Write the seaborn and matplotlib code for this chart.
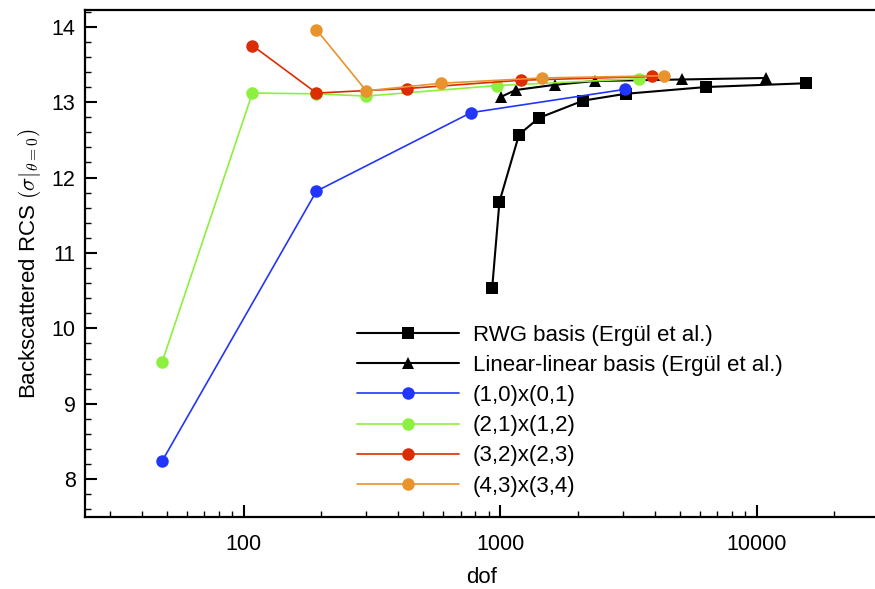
import matplotlib
matplotlib.use("Agg")
import matplotlib.pyplot as plt
from matplotlib.ticker import LogLocator, FixedLocator, MultipleLocator, NullFormatter, FuncFormatter
import numpy as np
import pandas as pd
import seaborn as sns

# Convergence of the backscattered RCS with the number of degrees of freedom
rwg_dof = [929, 992, 1183, 1413, 2104, 3076, 6340, 15560]
rwg_rcs = [10.53, 11.68, 12.57, 12.79, 13.02, 13.11, 13.20, 13.25]

lin_dof = [1007, 1146, 1637, 2334, 5118, 10885]
lin_rcs = [13.07, 13.16, 13.23, 13.28, 13.30, 13.32]

p1_dof = [48, 192, 768, 3072]
p1_rcs = [8.24, 11.82, 12.86, 13.17]

p2_dof = [48, 108, 192, 300, 972, 3468]
p2_rcs = [9.55, 13.12, 13.11, 13.08, 13.22, 13.31]

p3_dof = [108, 192, 432, 1200, 3888]
p3_rcs = [13.75, 13.12, 13.18, 13.29, 13.34]

p4_dof = [192, 300, 588, 1452, 4332]
p4_rcs = [13.96, 13.15, 13.25, 13.32, 13.35]

labels = ["RWG basis (Ergül et al.)", "Linear-linear basis (Ergül et al.)",
          "(1,0)x(0,1)", "(2,1)x(1,2)", "(3,2)x(2,3)", "(4,3)x(3,4)"]
colors = ["#000000", "#000000", "#2236fb", "#8cf03e", "#dc2c02", "#e8932c"]
markers = ["s", "^", "o", "o", "o", "o"]
x_ticks = [100, 1000, 10000]
y_ticks = [8, 9, 10, 11, 12, 13, 14]

series = [(rwg_dof, rwg_rcs), (lin_dof, lin_rcs), (p1_dof, p1_rcs),
          (p2_dof, p2_rcs), (p3_dof, p3_rcs), (p4_dof, p4_rcs)]

sns.set_theme(style="ticks")
plt.rcParams["font.family"] = ["Liberation Sans", "DejaVu Sans"]
plt.rcParams["mathtext.fontset"] = "cm"
plt.rcParams["text.color"] = "black"
plt.rcParams["axes.labelcolor"] = "black"

fig = plt.figure(figsize=(8.75, 5.89), dpi=100)
W, H = 875, 589
ax = fig.add_axes([85.3 / W, (H - 517) / H, (877 - 85.3) / W, (517 - 9.7) / H])

for (xs, ys), lab, col, mk in zip(series, labels, colors, markers):
    df = pd.DataFrame({"dof": xs, "rcs": ys})
    lw = 1.5 if col == "#000000" else 1.2
    sns.lineplot(data=df, x="dof", y="rcs", ax=ax, color=col, marker=mk,
                 markersize=9, markeredgewidth=0, linewidth=lw,
                 label=lab, estimator=None, sort=False)

ax.set_xscale("log")
ax.set_xlim(24.1, 29400)
ax.set_ylim(7.5, 14.225)

ax.xaxis.set_major_locator(FixedLocator(x_ticks))
ax.xaxis.set_major_formatter(FuncFormatter(lambda v, p: f"{int(round(v))}"))
ax.xaxis.set_minor_locator(LogLocator(base=10, subs=np.arange(2, 10)))
ax.xaxis.set_minor_formatter(NullFormatter())
ax.yaxis.set_major_locator(FixedLocator(y_ticks))
ax.yaxis.set_minor_locator(MultipleLocator(0.2))

ax.tick_params(which="major", direction="in", length=8.6, width=1.5,
               labelsize=15.5, color="black", labelcolor="black",
               top=False, right=False)
ax.tick_params(which="minor", direction="in", length=4.6, width=1.0,
               color="black", top=False, right=False)
ax.tick_params(axis="y", which="major", pad=7)
ax.tick_params(axis="x", which="major", pad=12)

for sp in ax.spines.values():
    sp.set_linewidth(1.6)
    sp.set_color("black")

ax.set_xlabel("dof", fontsize=16, labelpad=9, color="black")
ax.set_ylabel(r"Backscattered RCS $\left(\sigma|_{\theta=0}\right)$",
              fontsize=16, labelpad=6, color="black")

leg = ax.legend(loc="upper left", bbox_to_anchor=(357 / W, 1 - 325 / H),
                bbox_transform=fig.transFigure, frameon=False, fontsize=16,
                handlelength=4.6, handletextpad=0.6, labelspacing=0.41,
                borderpad=0, borderaxespad=0)
for t in leg.get_texts():
    t.set_color("black")

fig.savefig("out.png", dpi=100)
